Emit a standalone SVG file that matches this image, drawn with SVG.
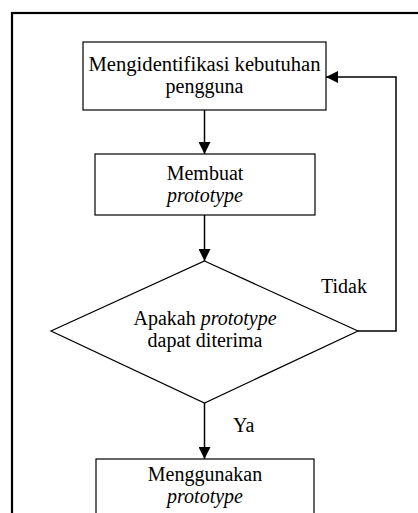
<svg xmlns="http://www.w3.org/2000/svg" width="418" height="513" viewBox="0 0 418 513">
<style>
.box{fill:#fff;stroke:#000;stroke-width:1.2}
.t{font-family:"Liberation Serif","Times New Roman","DejaVu Serif",serif;font-size:20px;fill:#000;text-anchor:middle}
.tl{font-family:"Liberation Serif","Times New Roman","DejaVu Serif",serif;font-size:20px;fill:#000}
.i{font-style:italic}
.c{fill:none;stroke:#000;stroke-width:1.5}
</style>
<defs>
<marker id="ah" viewBox="0 0 12 12" refX="12" refY="6" markerWidth="12" markerHeight="12" markerUnits="userSpaceOnUse" orient="auto">
<path d="M0,0 L12,6 L0,12 Z" fill="#000"/>
</marker>
</defs>
<rect x="12" y="13" width="420" height="520" fill="#fff" stroke="#000" stroke-width="2.2"/>
<g id="connectors">
<line class="c" x1="204.5" y1="110" x2="204.5" y2="154" marker-end="url(#ah)"/>
<line class="c" x1="204.5" y1="215" x2="204.5" y2="261" marker-end="url(#ah)"/>
<line class="c" x1="204.5" y1="403" x2="204.5" y2="459" marker-end="url(#ah)"/>
<polyline class="c" points="358,331 396,331 396,77 326,77" marker-end="url(#ah)"/>
<text class="tl" x="321" y="293">Tidak</text>
<text class="tl" x="233" y="432">Ya</text>
</g>
<g id="node1">
<rect class="box" x="83" y="42" width="243" height="68"/>
<text class="t" x="204.5" y="71" textLength="232" lengthAdjust="spacingAndGlyphs">Mengidentifikasi kebutuhan</text>
<text class="t" x="204.5" y="93">pengguna</text>
</g>
<g id="node2">
<rect class="box" x="95" y="154" width="220" height="61"/>
<text class="t" x="205" y="180">Membuat</text>
<text class="t i" x="205" y="202">prototype</text>
</g>
<g id="node3">
<polygon class="box" points="204.5,261 358,331 204.5,403 51,331"/>
<text class="t" x="205" y="325">Apakah <tspan class="i">prototype</tspan></text>
<text class="t" x="205" y="347">dapat diterima</text>
</g>
<g id="node4">
<rect class="box" x="96" y="459" width="218" height="70"/>
<text class="t" x="205" y="481">Menggunakan</text>
<text class="t i" x="205" y="503">prototype</text>
</g>
</svg>
